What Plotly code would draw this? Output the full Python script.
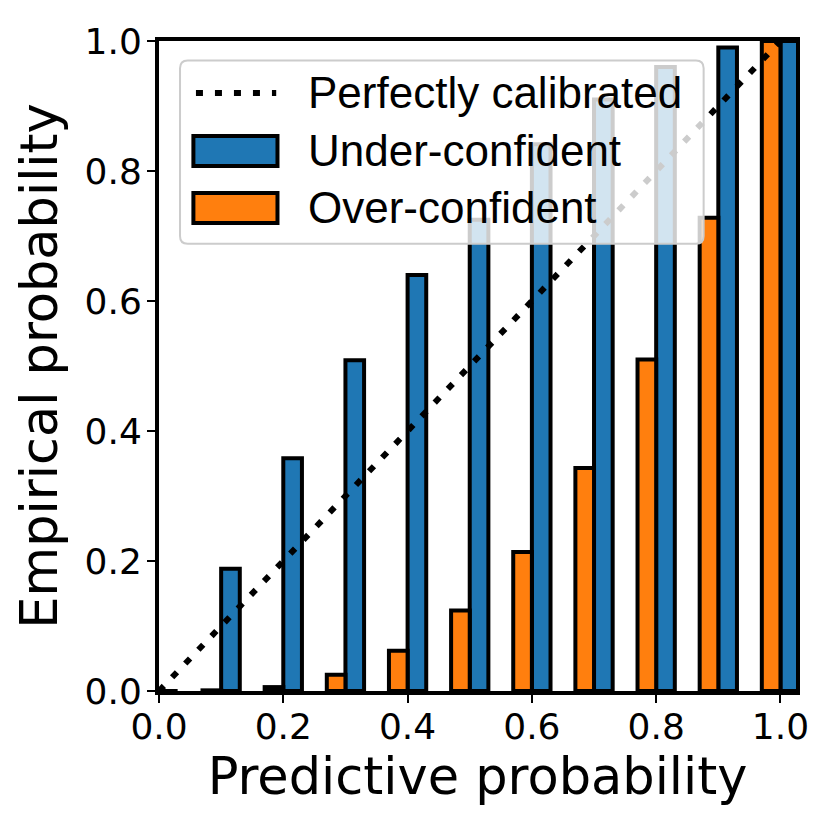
import plotly.graph_objects as go

# reliability diagram data (bin lower edge -> empirical probability)
bins = [0.0, 0.1, 0.2, 0.3, 0.4, 0.5, 0.6, 0.7, 0.8, 0.9, 1.0]
under_conf = [0.0, 0.188, 0.358, 0.509, 0.64, 0.725, 0.841, 0.91, 0.96, 0.99, 1.0]
over_conf = [0.0, 0.001, 0.006, 0.025, 0.062, 0.124, 0.214, 0.343, 0.51, 0.728, 1.0]
diag = [0.0, 1.0]

names = ['Perfectly calibrated', 'Under-confident', 'Over-confident']
blue = '#1f77b4'
orange = '#ff7f0e'

fig = go.Figure()

fig.add_trace(go.Scatter(x=diag, y=diag, mode='lines', name=names[0],
                         line=dict(color='black', width=6, dash='7px,12px'),
                         showlegend=False))

fig.add_trace(go.Bar(x=bins, y=under_conf, name=names[1], width=0.03, offset=0,
                     marker=dict(color=blue, line=dict(color='black', width=4)),
                     showlegend=False))
fig.add_trace(go.Bar(x=bins, y=over_conf, name=names[2], width=0.03, offset=-0.03,
                     marker=dict(color=orange, line=dict(color='black', width=4)),
                     showlegend=False))

tick_font = dict(family='DejaVu Sans', size=36, color='black')
title_font = dict(family='DejaVu Sans', size=51, color='black')
ticks = [0, 0.2, 0.4, 0.6, 0.8, 1.0]
tick_text = ['0.0', '0.2', '0.4', '0.6', '0.8', '1.0']

axis_style = dict(showgrid=False, zeroline=False, showline=True, mirror=True,
                  linecolor='black', linewidth=4, ticks='outside', ticklen=8,
                  tickwidth=2, tickcolor='black', tickfont=tick_font,
                  tickvals=ticks, ticktext=tick_text)

fig.update_layout(
    width=830, height=830,
    margin=dict(l=151, r=42, t=33, b=147),
    plot_bgcolor='white', paper_bgcolor='white',
    barmode='overlay',
    xaxis=dict(range=[0, 1.025], ticklabelstandoff=-7,
               title=dict(text='Predictive probability', font=title_font, standoff=4),
               **axis_style),
    yaxis=dict(range=[0, 1.0], ticklabelstandoff=-2,
               title=dict(text='Empirical probability', font=title_font, standoff=12),
               **axis_style),
)

# legend drawn by hand so the swatches match the matplotlib look
r = 0.012
x0, x1, y0, y1 = 0.033, 0.855, 0.688, 0.97
box = (f'M{x0 + r},{y0} L{x1 - r},{y0} Q{x1},{y0} {x1},{y0 + r} '
       f'L{x1},{y1 - r} Q{x1},{y1} {x1 - r},{y1} L{x0 + r},{y1} '
       f'Q{x0},{y1} {x0},{y1 - r} L{x0},{y0 + r} Q{x0},{y0} {x0 + r},{y0} Z')
fig.add_shape(type='path', path=box, xref='paper', yref='paper', layer='above',
              fillcolor='rgba(255,255,255,0.8)', line=dict(color='#cccccc', width=2))
fig.add_shape(type='line', xref='paper', yref='paper', layer='above',
              x0=0.058, x1=0.184, y0=0.92, y1=0.92,
              line=dict(color='black', width=6, dash='7px,12px'))
fig.add_shape(type='rect', xref='paper', yref='paper', layer='above',
              x0=0.054, x1=0.186, y0=0.8077, y1=0.8538,
              fillcolor=blue, line=dict(color='black', width=4))
fig.add_shape(type='rect', xref='paper', yref='paper', layer='above',
              x0=0.054, x1=0.186, y0=0.72, y1=0.7662,
              fillcolor=orange, line=dict(color='black', width=4))

for name, yy in zip(names, [0.92, 0.8308, 0.7431]):
    fig.add_annotation(text=name, xref='paper', yref='paper', x=0.23, y=yy,
                       xanchor='left', yanchor='middle', showarrow=False,
                       font=dict(family='Liberation Sans', size=44, color='black'))

fig.write_html('out.html')
